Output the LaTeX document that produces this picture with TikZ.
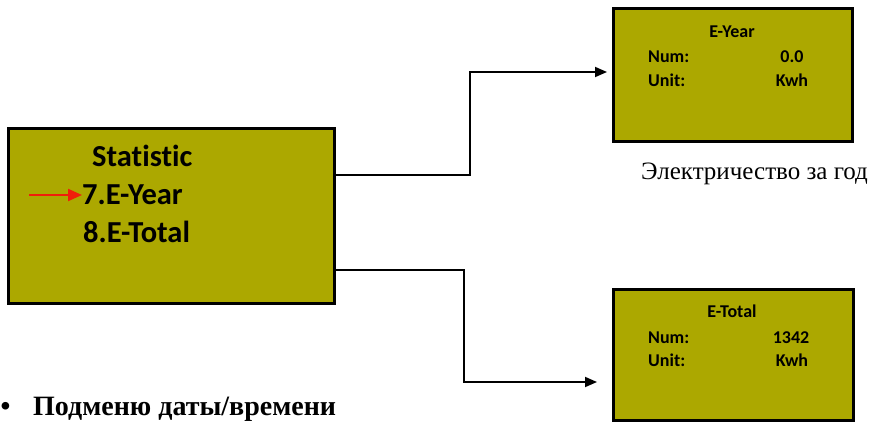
\documentclass[tikz,border=0pt]{standalone}
\usepackage{fontspec}
\setmainfont{Liberation Serif}
\newfontfamily\calib[Ligatures={NoCommon}]{Carlito}
\usetikzlibrary{arrows.meta}
\definecolor{lcd}{RGB}{172,168,0}
\definecolor{redarrow}{RGB}{240,30,10}
\tikzset{
  screen/.style={draw=black, fill=lcd, line width=2.6pt, inner sep=0pt, anchor=north west},
  conn/.style={draw=black, line width=1.8pt, -{Triangle[length=12pt,width=10pt]}},
  big/.style={inner sep=0pt, font=\calib\bfseries\fontsize{30.5}{30}\selectfont},
  small/.style={inner sep=0pt, font=\calib\bfseries\fontsize{18}{18}\selectfont},
  serif/.style={inner sep=0pt, font=\fontsize{25}{25}\selectfont},
}
\begin{document}
\begin{tikzpicture}[x=1pt,y=-1pt]
\useasboundingbox (0,0) rectangle (874,422);
% boxes
\node[screen, minimum width=326pt, minimum height=175pt] (stat) at (7,127) {};
\node[screen, minimum width=239pt, minimum height=133pt] (year) at (612,7) {};
\node[screen, minimum width=240pt, minimum height=131pt] (total) at (612,288) {};
% left box text
\node[big, anchor=base west] (t1) at (92,167) {Statistic};
\node[big, anchor=base west] (t2) at (82,204) {7.E-Year};
\node[big, anchor=base west] (t3) at (83,242) {8.E-Total};
\coordinate (rs) at (29,195);
\draw[redarrow, line width=2.2pt, -{Triangle[length=14pt,width=12pt]}] (rs) -- (t2.west |- rs);
% upper right text
\node[small, anchor=base] (yt) at (732,38) {E-Year};
\node[small, anchor=base west] (yn) at (648,63) {Num:};
\node[small, anchor=base] (yv) at (792,63) {0.0};
\node[small, anchor=base west] (yu) at (648,87) {Unit:};
\node[small, anchor=base] (yk) at (792,87) {Kwh};
% lower right text
\node[small, anchor=base] (tt) at (732,317) {E-Total};
\node[small, anchor=base west] (tn) at (648,343) {Num:};
\node[small, anchor=base] (tv) at (791,343) {1342};
\node[small, anchor=base west] (tu) at (648,366) {Unit:};
\node[small, anchor=base] (tk) at (792,366) {Kwh};
% connectors
\coordinate (h1) at (0,175);
\coordinate (h2) at (0,270);
\coordinate (e1) at (0,72);
\coordinate (e2) at (0,382);
\draw[conn, shorten >=5pt] (stat.east |- h1) -- (470,175) |- (year.west |- e1);
\draw[conn, shorten >=15pt] (stat.east |- h2) -- (464,270) |- (total.west |- e2);
% captions
\node[serif, anchor=base west] (cap) at (641,179) {Электричество за год};
\node[serif, anchor=base west, font=\bfseries\fontsize{28}{28}\selectfont] (bul) at (0.5,415) {•};
\node[serif, anchor=base west, font=\bfseries\fontsize{28}{28}\selectfont] (sub) at (33,415) {Подменю даты/времени};
\end{tikzpicture}
\end{document}
